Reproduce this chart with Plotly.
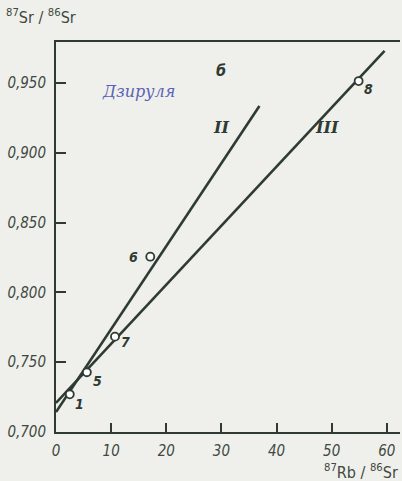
import plotly.graph_objects as go

# Rb-Sr isochron data: sample numbers and ratios
sample_ids = ["1", "5", "7", "6", "8"]
rb_sr = [2.5, 5.6, 10.7, 17.1, 54.9]
sr_sr = [0.727, 0.7428, 0.7683, 0.8256, 0.9514]

# Isochron lines (end points in data units)
iso_II_x = [0, 36.9]
iso_II_y = [0.7143, 0.9335]
iso_III_x = [0, 59.6]
iso_III_y = [0.7208, 0.9731]

x_ticks = [0, 10, 20, 30, 40, 50, 60]
y_ticks = [0.700, 0.750, 0.800, 0.850, 0.900, 0.950]
y_tick_text = ["0,700", "0,750", "0,800", "0,850", "0,900", "0,950"]

ink = "#2f3a33"
label_ink = "#3f4842"
bg = "#eff0eb"
cond = "DejaVu Sans Condensed, Liberation Sans Narrow, Arial Narrow, sans-serif"

fig = go.Figure()
for xs, ys in [(iso_II_x, iso_II_y), (iso_III_x, iso_III_y)]:
    fig.add_trace(go.Scatter(x=xs, y=ys, mode="lines",
                             line=dict(color=ink, width=2.6),
                             hoverinfo="skip", showlegend=False))

fig.add_trace(go.Scatter(
    x=rb_sr, y=sr_sr, mode="markers",
    marker=dict(symbol="circle", size=8, color="white",
                line=dict(color=ink, width=1.8)),
    showlegend=False))

# sample number labels beside the points
offsets = {"1": (10, 10), "5": (11, 9), "7": (11, 5), "6": (-17, 0), "8": (10, 8)}
for sid, xv, yv in zip(sample_ids, rb_sr, sr_sr):
    dx, dy = offsets[sid]
    fig.add_annotation(x=xv, y=yv, text=sid, showarrow=False,
                       xshift=dx, yshift=-dy,
                       font=dict(family=cond, size=14, color=ink, style="italic",
                                 weight="bold"))

fig.add_annotation(x=30, y=0.9593, text="б", showarrow=False,
                   font=dict(family=cond, size=16, color=ink, style="italic", weight="bold"))
fig.add_annotation(x=29.9, y=0.9178, text="II", showarrow=False,
                   font=dict(family="DejaVu Serif, serif", size=16, color=ink,
                             style="italic", weight="bold"))
fig.add_annotation(x=49.2, y=0.9178, text="III", showarrow=False,
                   font=dict(family="DejaVu Serif, serif", size=16, color=ink,
                             style="italic", weight="bold"))
fig.add_annotation(x=15.0, y=0.944, text="Дзируля", showarrow=False,
                   font=dict(family="DejaVu Serif, serif", size=16, color="#5b63b5",
                             style="italic"))

# axis titles
fig.add_annotation(xref="paper", yref="paper", x=-0.15, y=1.0, yshift=26,
                   xanchor="left", yanchor="middle", showarrow=False,
                   text="<sup>87</sup>Sr / <sup>86</sup>Sr",
                   font=dict(family=cond, size=16, color=label_ink))
fig.add_annotation(xref="paper", yref="paper", x=1.0, y=0, yshift=-39,
                   xanchor="right", yanchor="middle", showarrow=False,
                   text="<sup>87</sup>Rb / <sup>86</sup>Sr",
                   font=dict(family=cond, size=16, color=label_ink))

fig.update_xaxes(range=[0, 62.4], tickvals=x_ticks, ticks="inside", ticklen=9,
                 tickwidth=1.5, tickcolor=ink, showline=True, linecolor=ink,
                 linewidth=2, mirror=True, showgrid=False, zeroline=False,
                 ticklabelstandoff=4,
                 tickfont=dict(family=cond, size=15, color=label_ink, style="italic"))
fig.update_yaxes(range=[0.700, 0.9794], tickvals=y_ticks, ticktext=y_tick_text,
                 ticks="inside", ticklen=10, tickwidth=1.5, tickcolor=ink,
                 showline=True, linecolor=ink, linewidth=2, showgrid=False,
                 zeroline=False, ticklabelstandoff=5,
                 tickfont=dict(family=cond, size=15, color=label_ink, style="italic"))

fig.update_layout(width=402, height=481, margin=dict(l=56, r=2, t=42, b=49),
                  paper_bgcolor=bg, plot_bgcolor=bg, showlegend=False)

fig.write_html("out.html")
